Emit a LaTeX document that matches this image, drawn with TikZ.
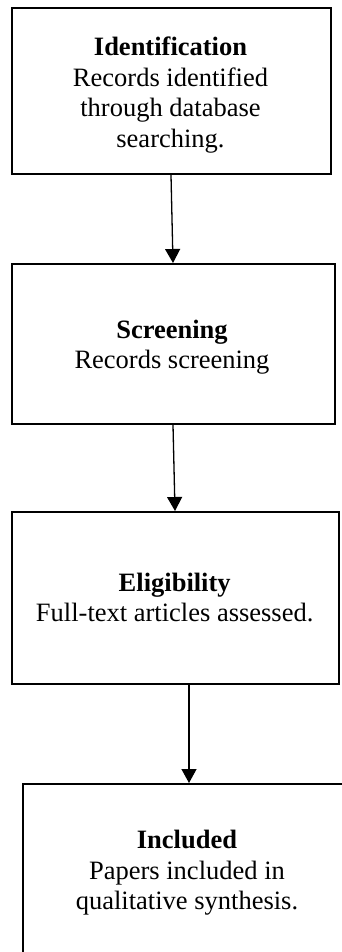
\documentclass[tikz,border=0pt]{standalone}
\usepackage{fontspec}
\setmainfont{Liberation Serif}
\usetikzlibrary{arrows.meta}
\begin{document}
\begin{tikzpicture}[x=1pt,y=-1pt,
  box/.style={draw=black,line width=2pt,fill=white,inner sep=0pt},
  lbl/.style={align=center,inner sep=0pt,font=\fontsize{26.5}{30.5}\selectfont},
  arr/.style={line width=1.3pt,-{Triangle[length=14pt,width=15pt]}}]
\clip (0,0) rectangle (342,952);
\fill[white] (0,0) rectangle (342,952);
% boxes
\node[box,minimum width=319pt,minimum height=166pt] (b1) at (171.5,91) {};
\node[box,minimum width=323pt,minimum height=160pt] (b2) at (173.5,344) {};
\node[box,minimum width=327pt,minimum height=172pt] (b3) at (175.5,598) {};
\node[box,minimum width=400pt,minimum height=400pt] (b4) at (223,984) {};
% texts
\node[lbl] (t1) at (170.5,95) {\textbf{Identification}\\Records identified\\through database\\searching.};
\node[lbl] (t2) at (172,347) {\textbf{Screening}\\Records screening};
\node[lbl] (t3) at (174.7,597.5) {\textbf{Eligibility}\\Full-text articles assessed.};
\node[lbl] (t4) at (187,873) {\textbf{Included}\\Papers included in\\qualitative synthesis.};
% arrows
\draw[arr] ([xshift=-0.5pt]b1.south) -- ([xshift=-0.5pt]b2.north);
\draw[arr] ([xshift=-0.5pt]b2.south) -- ([xshift=-0.5pt]b3.north);
\draw[arr] ([xshift=13.5pt]b3.south) -- ([xshift=167pt]b4.north west);
\end{tikzpicture}
\end{document}
